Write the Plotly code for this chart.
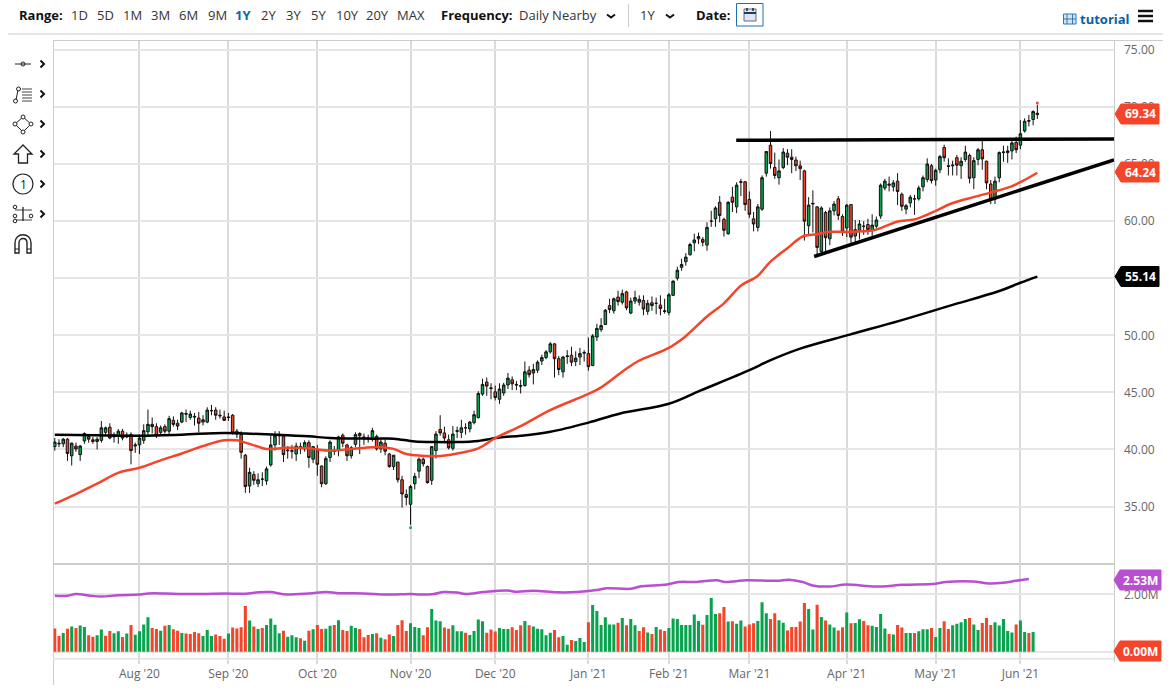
import plotly.graph_objects as go

# daily candles, Jul 2020 - Jun 2021
opens = [
    40.25, 40.55, 40.5, 40.9, 39.45, 40.3, 39.55, 40.75, 41.15, 40.85,
    40.7, 40.8, 41.5, 41.95, 41.1, 41.2, 41.6, 41.1, 41.3, 40.3,
    40.4, 40.8, 41.55, 42.2, 42.0, 41.5, 42.0, 41.6, 42.55, 42.3,
    42.4, 43.15, 42.8, 42.9, 42.75, 42.4, 42.4, 43.4, 43.45, 43.0,
    42.85, 42.85, 43.0, 41.6, 41.3, 39.5, 36.8, 37.8, 37.0, 37.4,
    37.25, 38.65, 40.4, 41.3, 41.15, 39.95, 39.9, 39.6, 40.25, 40.05,
    40.6, 39.15, 39.9, 38.55, 37.0, 39.3, 39.9, 39.9, 41.25, 40.4,
    39.45, 40.45, 41.4, 41.1, 41.0, 40.9, 41.15, 40.05, 40.55, 39.6,
    38.5, 38.9, 37.35, 36.05, 35.2, 37.0, 38.1, 39.15, 38.5, 37.3,
    39.9, 41.75, 41.45, 40.85, 40.1, 41.65, 41.5, 41.9, 41.8, 42.35,
    42.8, 44.85, 45.9, 45.4, 45.05, 44.4, 44.95, 45.65, 46.1, 45.7,
    45.6, 45.6, 46.95, 46.7, 46.95, 47.75, 48.05, 48.55, 49.25, 47.95,
    46.8, 48.2, 48.25, 47.7, 48.1, 48.5, 48.4, 47.35, 49.85, 50.5,
    50.95, 52.6, 52.15, 53.35, 52.9, 53.8, 51.95, 53.0, 52.9, 53.05,
    52.1, 52.85, 52.8, 52.65, 52.15, 52.0, 53.5, 55.0, 55.95, 56.45,
    57.05, 58.1, 58.45, 58.4, 57.9, 60.0, 60.2, 61.65, 60.15, 58.9,
    62.1, 61.25, 63.4, 63.45, 61.9, 60.2, 59.45, 61.05, 64.2, 66.65,
    64.7, 63.8, 64.7, 65.95, 65.6, 65.35, 64.85, 64.4, 59.6, 61.5,
    61.25, 57.35, 60.75, 58.45, 60.9, 61.95, 60.4, 59.4, 61.45, 58.7,
    59.2, 59.55, 59.7, 59.25, 59.55, 60.45, 62.9, 63.25, 63.0, 63.5,
    62.35, 61.05, 61.6, 61.95, 61.95, 63.0, 63.65, 64.85, 63.6, 64.5,
    66.45, 64.85, 64.85, 65.55, 64.85, 65.4, 65.75, 63.8, 65.4, 66.25,
    65.25, 63.25, 61.95, 63.8, 66.0, 66.0, 66.15, 66.9, 66.65, 67.9,
    68.75, 68.9, 69.45,
]
highs = [
    41.0, 40.9, 41.0, 41.0, 40.6, 40.6, 40.4, 41.5, 41.3, 41.1,
    41.1, 42.5, 42.0, 42.3, 41.5, 41.8, 41.8, 41.5, 41.5, 40.6,
    41.3, 42.2, 43.5, 42.8, 42.3, 42.1, 42.2, 42.95, 42.9, 42.6,
    43.3, 43.5, 43.4, 43.2, 43.3, 43.0, 43.7, 43.9, 43.7, 43.5,
    43.4, 43.2, 43.1, 41.8, 41.6, 39.6, 38.4, 38.1, 37.9, 38.0,
    38.5, 41.2, 41.6, 41.6, 41.3, 40.3, 40.4, 40.6, 40.6, 40.8,
    40.8, 40.3, 40.4, 38.6, 39.4, 40.8, 40.3, 41.2, 41.4, 40.5,
    40.3, 41.5, 41.5, 41.4, 41.3, 41.9, 41.3, 41.0, 40.9, 39.7,
    39.5, 38.9, 37.7, 36.5, 36.9, 37.95, 39.3, 39.3, 38.6, 40.3,
    41.6, 43.0, 42.0, 41.3, 42.05, 42.0, 42.6, 42.3, 42.5, 43.4,
    45.1, 46.2, 46.3, 45.8, 45.6, 45.8, 45.85, 46.7, 46.4, 46.0,
    46.1, 47.7, 47.3, 47.5, 47.8, 48.3, 48.7, 49.4, 49.3, 48.2,
    48.2, 48.7, 49.0, 48.6, 48.9, 48.7, 49.8, 50.1, 51.0, 51.5,
    52.3, 53.2, 53.3, 53.9, 54.0, 53.9, 53.3, 53.9, 53.5, 53.5,
    53.1, 53.4, 53.3, 53.5, 53.2, 53.7, 54.8, 56.0, 56.7, 57.2,
    58.1, 58.9, 59.0, 58.6, 59.9, 60.9, 61.3, 62.2, 60.3, 61.75,
    63.0, 63.4, 63.7, 63.5, 62.6, 60.8, 61.5, 64.0, 66.1, 67.9,
    66.0, 65.4, 66.4, 66.3, 66.3, 65.65, 65.3, 64.5, 62.1, 62.7,
    61.3, 61.3, 60.9, 61.2, 61.75, 62.2, 60.6, 61.5, 61.5, 60.1,
    60.1, 60.0, 60.2, 60.6, 60.4, 63.3, 63.7, 63.9, 63.6, 64.2,
    62.5, 61.5, 62.3, 62.3, 63.1, 64.0, 65.5, 65.0, 64.6, 65.8,
    66.7, 65.5, 65.3, 65.8, 65.6, 66.6, 65.9, 65.6, 66.4, 67.2,
    65.3, 63.6, 63.9, 66.1, 66.6, 66.6, 67.1, 67.4, 68.85, 69.0,
    69.3, 69.7, 70.2,
]
lows = [
    39.9, 40.2, 40.2, 39.0, 38.6, 39.8, 39.0, 40.5, 40.6, 40.5,
    40.0, 40.6, 41.2, 40.9, 40.6, 40.5, 40.8, 41.0, 38.7, 39.7,
    39.6, 40.5, 41.1, 41.4, 41.0, 41.3, 41.4, 41.3, 42.0, 41.7,
    42.3, 42.4, 42.6, 42.1, 41.5, 42.1, 42.3, 43.0, 42.6, 42.7,
    42.5, 42.5, 41.3, 41.0, 39.2, 36.2, 36.2, 36.9, 36.7, 36.8,
    36.9, 38.5, 39.9, 40.4, 38.9, 39.2, 39.2, 39.0, 39.6, 39.8,
    38.4, 38.8, 37.7, 36.7, 36.9, 38.9, 39.5, 39.4, 40.2, 39.0,
    39.2, 40.2, 39.6, 40.4, 40.6, 40.7, 39.9, 39.7, 39.5, 38.4,
    38.2, 37.1, 34.9, 35.1, 33.4, 36.5, 37.5, 38.5, 37.0, 36.9,
    39.2, 41.2, 40.6, 40.0, 39.9, 41.0, 41.0, 41.3, 41.5, 42.2,
    42.7, 44.7, 44.7, 44.4, 44.3, 44.0, 44.7, 45.3, 45.2, 45.2,
    44.9, 45.5, 46.3, 45.7, 46.7, 47.4, 47.9, 48.4, 46.3, 46.5,
    46.3, 47.5, 47.3, 47.3, 47.4, 47.7, 46.9, 47.3, 49.5, 50.3,
    50.9, 51.95, 51.9, 52.6, 52.7, 52.2, 51.85, 52.75, 52.6, 51.75,
    51.8, 52.15, 51.85, 51.75, 51.9, 51.75, 53.45, 54.8, 55.65, 56.1,
    57.0, 57.35, 58.0, 57.8, 57.4, 59.5, 59.5, 59.9, 58.65, 58.8,
    60.8, 60.7, 62.2, 60.9, 60.3, 59.1, 59.1, 60.9, 63.9, 64.6,
    63.7, 63.2, 64.55, 64.9, 64.2, 64.4, 63.6, 58.3, 58.75, 59.0,
    57.0, 57.1, 57.2, 57.9, 60.5, 60.1, 58.7, 58.6, 57.9, 58.1,
    58.4, 58.8, 58.8, 58.7, 59.4, 60.2, 62.7, 62.6, 62.6, 61.4,
    60.9, 60.6, 61.2, 60.55, 61.8, 62.6, 63.4, 63.3, 63.1, 64.2,
    65.2, 64.0, 64.0, 64.0, 63.7, 65.2, 63.3, 62.8, 64.9, 64.5,
    62.8, 61.5, 61.5, 63.4, 65.2, 65.1, 65.4, 65.95, 66.3, 67.75,
    68.3, 68.4, 68.95,
]
closes = [
    40.65, 40.5, 40.9, 39.65, 40.55, 40.05, 40.3, 41.4, 40.9, 40.7,
    40.9, 41.9, 41.9, 41.0, 41.3, 41.6, 41.0, 41.25, 39.9, 40.4,
    41.0, 41.65, 42.2, 42.0, 41.2, 41.9, 41.6, 42.7, 42.2, 42.05,
    43.2, 43.1, 43.1, 42.85, 42.3, 42.6, 43.45, 43.4, 43.0, 42.95,
    42.55, 42.8, 41.45, 41.35, 39.75, 36.75, 38.0, 37.3, 37.35, 37.4,
    38.3, 40.4, 41.2, 41.2, 39.55, 39.9, 39.85, 40.3, 40.2, 40.6,
    39.3, 40.25, 38.7, 37.0, 39.2, 40.65, 39.85, 41.1, 40.55, 39.45,
    40.15, 41.3, 41.2, 41.05, 41.0, 41.65, 40.05, 40.65, 39.85, 38.5,
    39.5, 37.35, 36.1, 35.8, 36.75, 37.65, 39.15, 38.75, 37.1, 40.25,
    41.35, 41.45, 41.0, 40.15, 41.35, 41.6, 41.9, 41.9, 42.4, 43.05,
    44.9, 45.7, 45.55, 45.35, 44.55, 45.3, 45.65, 46.25, 45.75, 45.65,
    45.55, 46.8, 46.55, 47.0, 47.65, 48.05, 48.55, 49.25, 47.95, 47.0,
    48.1, 48.15, 47.65, 48.0, 48.4, 48.45, 47.25, 49.95, 50.6, 50.85,
    52.2, 52.25, 53.2, 52.95, 53.65, 52.4, 53.0, 53.3, 53.15, 52.3,
    52.8, 52.6, 52.8, 52.35, 52.1, 53.55, 54.75, 55.7, 56.2, 56.85,
    57.95, 58.35, 58.65, 58.15, 59.45, 60.0, 61.15, 60.5, 59.2, 61.65,
    61.65, 63.15, 63.45, 61.45, 60.6, 59.75, 61.25, 63.8, 66.1, 65.05,
    64.0, 64.4, 66.05, 65.6, 65.4, 64.85, 64.6, 60.0, 61.4, 61.55,
    57.7, 61.15, 58.55, 60.9, 61.5, 60.5, 59.05, 61.4, 58.6, 59.25,
    59.75, 59.55, 59.25, 59.65, 60.1, 63.15, 63.5, 63.15, 63.35, 62.6,
    61.3, 61.35, 62.1, 61.95, 62.9, 63.8, 65.0, 63.55, 64.45, 65.65,
    65.55, 64.8, 64.9, 64.9, 65.25, 66.05, 63.75, 65.3, 66.25, 65.45,
    63.35, 61.9, 63.5, 66.0, 66.05, 66.15, 66.85, 66.25, 67.65, 68.75,
    68.8, 69.6, 69.34,
]

# volume in millions (last session has no bar yet)
volumes = [
    .81, .55, .65, .80, .88, .83, .91, .86, .57, .52,
    .57, .77, .56, .72, .64, .71, .51, .63, .93, .59,
    .71, .95, 1.20, .83, .79, .73, .90, .93, .78, .73,
    .65, .63, .62, .69, .64, .55, .76, .55, .60, .55,
    .45, .63, .84, .81, .85, 1.59, 1.09, .88, .79, .83,
    .93, 1.16, .94, .64, .73, .52, .57, .50, .47, .38,
    .73, .78, .93, .79, .80, .90, .93, 1.10, .76, .72,
    .90, .83, .79, .50, .58, .62, .64, .49, .43, .60,
    .55, .93,
    1.10, .72, .99, .86, .83, .57, .85, 1.49, 1.09, 1.06,
    .84, .80, .92, .71, .71, .66, .58, .72, 1.12, 1.06,
    .66, .77, .70, .83, .79, .79, .85, .76, .92, 1.07,
    .92, .88, .80, .78, .57, .66, .76, .50, .55, .24,
    .41, .37, .48, .34, 1.03, 1.63, 1.42, .93, 1.20, .95,
    .95, 1.01, 1.17, .92, 1.14, .92, .72, .85, .67, .62,
    .86, .77, .72, .83, 1.16, 1.14, .93, .93, .93, 1.30,
    1.07, .94, 1.28, 1.87, 1.31, 1.34, 1.56, 1.05, 1.06, .97,
    1.09, .88, .95, .99, 1.07, 1.72, 1.34, 1.14, 1.34, 1.10,
    1.01, .74, .86, .86, 1.05,
    1.70, 1.49, .77, 1.64, 1.21, 1.09, .95, .84, .74, .85,
    1.37, .99, 1.00, 1.13, 1.07, .92, .90, .86, 1.31, .81,
    .62, .60, .93, .84, .65, .65, .65, .71, .78, .78,
    .83, .51, .83, 1.06, .79, .92, .97, 1.03, 1.14, 1.17,
    .95, .76, 1.00, 1.17, .93, 1.03, .91, 1.14, .72, .67,
    .95, 1.09, .69, .65, .69,
]
volume_sides = (
    "RRGRGRGGRR" "GGRRGGRGRG" "GGGRRGRGRR" "GRRRRGGGRR" "RGRRRRGRGR"
    "GGGGRGGGRG" "RGRRGGRGRR" "GGRRRGRGRR" "GR"
    "RRGGGRRGGG" "RRGGGRGGGG" "RRRGGGRRRG" "RGGGGGRRGG" "RGGGRGGGGG"
    "GRGRGGRRGR" "GRRGGGGGGG" "GRGGGRRGRG" "GRRRGGGRRG" "GRRRR"
    "RGGRGRGGRR" "GRGGRRGGGG" "RGRRGGRGGG" "RGGRRGGGGR" "GGRRRGGGGG" "RGGRG"
)

# moving averages, read at sample sessions
ma50_idx = [0, 5, 10, 15, 20, 25, 30, 35, 40, 43, 45, 48, 50, 55, 60, 65, 70, 75, 77, 80,
            83, 85, 90, 95, 100, 104, 110, 117, 125.6, 128.6, 134.7, 137.8, 145, 148.9, 154,
            158, 162.2, 165.8, 169, 172.9, 176.8, 180, 182.3, 187, 193.3, 196.4, 198.8, 203.5,
            208.3, 211.4, 216.9, 220.9, 225.6, 228.7, 232]
ma50_val = [35.25, 36.1, 37.0, 37.95, 38.4, 39.05, 39.65, 40.3, 40.8, 40.8, 40.6, 40.25, 40.05,
            40.15, 40.1, 39.9, 40.05, 40.2, 40.2, 40.05, 39.6, 39.5, 39.4, 39.65, 40.1, 41.0,
            42.05, 43.45, 44.8, 45.35, 47.0, 47.75, 48.9, 49.9, 51.65, 52.8, 54.4, 55.15, 56.45,
            57.6, 58.7, 58.85, 59.05, 59.05, 59.2, 59.6, 59.95, 60.2, 60.95, 61.5, 62.1, 62.5,
            63.0, 63.55, 64.24]
ma200_idx = [0, 10, 20, 30, 40, 45, 52, 60, 65, 75, 80, 85, 90, 95, 100, 105, 110, 117, 126,
             133.5, 145, 152.4, 164, 168.9, 176, 187.7, 199.6, 211.4, 223.2, 228, 232]
ma200_val = [41.3, 41.25, 41.2, 41.3, 41.45, 41.4, 41.3, 41.15, 41.0, 40.95, 40.95, 40.7, 40.65,
             40.65, 40.75, 41.05, 41.2, 41.55, 42.35, 43.15, 44.0, 45.15, 46.95, 47.8, 48.83,
             50.06, 51.29, 52.6, 53.9, 54.6, 55.14]
avg_vol_idx = [0, 3, 5, 8, 11, 15, 20, 22, 26, 30, 35, 40, 45, 48, 51, 54, 60, 64, 67, 73, 78,
               81.6, 84, 86.3, 89.5, 91.8, 95, 97, 101.3, 106.8, 109.1, 113, 118.6, 123.3, 128,
               130.4, 135.9, 138.2, 144.5, 147.3, 151.6, 156.3, 158.3, 163.4, 170.5, 173.4, 176.6,
               178.9, 182.9, 186.8, 193.9, 200.2, 208, 210.4, 216.7, 220.6, 223.8, 226.9, 230]
avg_vol_val = [1.95, 1.95, 2.01, 1.96, 1.92, 1.97, 1.99, 2.03, 2.03, 2.01, 2.01, 2.03, 2.02, 2.07,
               2.08, 2.0, 2.03, 2.08, 2.04, 2.03, 1.99, 2.0, 2.01, 1.99, 2.01, 2.08, 2.06, 2.01,
               2.08, 2.13, 2.09, 2.12, 2.07, 2.08, 2.15, 2.21, 2.19, 2.27, 2.34, 2.43, 2.43, 2.49,
               2.43, 2.49, 2.47, 2.51, 2.43, 2.31, 2.27, 2.34, 2.27, 2.33, 2.37, 2.43, 2.45, 2.38,
               2.4, 2.47, 2.53]

# hand drawn trend lines
resistance_idx = [160.9, 250.1]
resistance_val = [67.08, 67.2]
support_idx = [179.3, 250.1]
support_val = [56.9, 65.37]

month_idx = [20, 41, 62, 84, 104, 126, 145, 164, 187, 208, 228]
month_labels = ["Aug '20", "Sep '20", "Oct '20", "Nov '20", "Dec '20", "Jan '21",
                "Feb '21", "Mar '21", "Apr '21", "May '21", "Jun '21"]
price_ticks = [35, 40, 45, 50, 55, 60, 65, 70, 75]
range_buttons = ["1D", "5D", "1M", "3M", "6M", "9M", "1Y", "2Y", "3Y", "5Y", "10Y", "20Y", "MAX"]
range_button_x = [79, 105, 132, 160, 188, 217, 243, 268, 293, 318, 347, 377, 411]

GREEN = "#08a34e"
RED = "#f4452b"
PURPLE = "#b94fd0"
GRID = "#e6e6e6"
VLINE = "#dadada"
BORDER = "#cccccc"
FONT = "Open Sans"

W, H = 1169, 695


def px(x):
    return x / W


def py(y):
    return 1 - y / H


shapes = []
annotations = []


def line(x0, y0, x1, y1, color=BORDER, width=1, layer="above"):
    shapes.append(dict(type="line", xref="paper", yref="paper", x0=px(x0), y0=py(y0),
                       x1=px(x1), y1=py(y1), line=dict(color=color, width=width), layer=layer))


def circle(cx, cy, r, color="#222222", width=1, fill="rgba(0,0,0,0)"):
    shapes.append(dict(type="circle", xref="paper", yref="paper", x0=px(cx - r), y0=py(cy - r),
                       x1=px(cx + r), y1=py(cy + r), line=dict(color=color, width=width),
                       fillcolor=fill))


def rect(x0, y0, x1, y1, color="#222222", width=1, fill="rgba(0,0,0,0)"):
    shapes.append(dict(type="rect", xref="paper", yref="paper", x0=px(x0), y0=py(y0),
                       x1=px(x1), y1=py(y1), line=dict(color=color, width=width), fillcolor=fill))


def poly(points, color="#222222", width=1, fill="rgba(0,0,0,0)", close=True):
    path = "M " + " L ".join(f"{px(a):.5f} {py(b):.5f}" for a, b in points)
    if close:
        path += " Z"
    shapes.append(dict(type="path", xref="paper", yref="paper", path=path,
                       line=dict(color=color, width=width), fillcolor=fill))


def text(x, y, s, size=13, color="#333333", bold=False, anchor="left"):
    if bold:
        s = f"<b>{s}</b>"
    if anchor == "left":
        x -= 2  # annotation box padding
    annotations.append(dict(xref="paper", yref="paper", x=px(x), y=py(y), text=s, showarrow=False,
                            xanchor=anchor, yanchor="middle",
                            font=dict(family=FONT, size=size, color=color)))


def chevron(cx, cy, w=4, h=3, width=2):
    poly([(cx - w, cy - h / 2), (cx, cy + h / 2), (cx + w, cy - h / 2)],
         color="#111111", width=width, close=False)


def side_chevron(cx, cy):
    poly([(cx - 2, cy - 3.5), (cx + 1.5, cy), (cx - 2, cy + 3.5)], color="#111111", width=2, close=False)


def price_flag(y, label, color, x0=1115, x1=1159):
    poly([(x0, y), (x0 + 6, y - 10), (x1, y - 10), (x1, y + 10), (x0 + 6, y + 10)],
         color=color, fill=color)
    text((x0 + x1) / 2 + 3, y, label, size=12, color="white", bold=True, anchor="center")


# frame
line(8, 34, 1163, 34, layer="below")
line(53.5, 40.5, 1163, 40.5, layer="below")
line(53.5, 40, 53.5, 685, layer="below")
line(1114.5, 40, 1114.5, 662, layer="below")
line(53, 564, 1114, 564, color=BORDER, width=2, layer="below")
line(53, 658.7, 1114, 658.7, color=GRID, width=2, layer="below")

# toolbar
text(19, 15, "Range:", bold=True, color="#111111")
for label, x in zip(range_buttons, range_button_x):
    if label == "1Y":
        text(x, 15, label, color="#1565a8", bold=True, anchor="center")
    else:
        text(x, 15, label, color="#333333", anchor="center")
text(441, 15, "Frequency:", bold=True, color="#111111")
text(519, 15, "Daily Nearby", color="#333333")
chevron(611, 16)
line(628.5, 4, 628.5, 27, color="#cccccc", layer="below")
text(640, 15, "1Y", color="#333333")
chevron(670, 16)
text(696, 15, "Date:", bold=True, color="#111111")
rect(736.5, 3.5, 763, 26, color="#1c6fb5")
rect(744, 9, 756, 21, color="#5b6b8c", fill="#dfe6f5")
line(744, 13, 756, 13, color="#1f3b66", width=2)
line(747, 8, 747, 11, color="#222222", width=1.5)
line(753, 8, 753, 11, color="#222222", width=1.5)
# tutorial link
rect(1063.5, 14, 1076, 24, color="#2f78b5", fill="#d4e6f5")
line(1067, 14, 1067, 24, color="#2f78b5")
line(1072.5, 14, 1072.5, 24, color="#2f78b5")
line(1063.5, 19, 1076, 19, color="#2f78b5")
text(1080, 19, "tutorial", size=13, color="#0a5fa5", bold=True)
for yy in (11, 16, 21):
    line(1138, yy, 1153, yy, color="#111111", width=2.5)

# left drawing tools
line(15, 64, 31, 64, color="#222222")
circle(23, 64, 2)
side_chevron(42.5, 64)
line(16, 100, 18, 90, color="#222222")
circle(15.5, 101, 2)
circle(18.5, 89, 2)
for yy in (89, 92, 95, 98, 101):
    line(22, yy, 32, yy, color="#444444")
side_chevron(42.5, 94)
poly([(23, 117), (31, 124), (23, 132), (15, 124)], width=1)
for cx, cy in ((23, 117), (31, 124), (23, 132), (15, 124)):
    circle(cx, cy, 2, fill="white")
side_chevron(42.5, 124)
poly([(23, 145), (32, 154), (27.5, 154), (27.5, 163), (18.5, 163), (18.5, 154), (14, 154)], width=1.3)
side_chevron(42.5, 154)
circle(23, 184, 10, width=1.2)
text(23, 184, "1", size=12, color="#222222", anchor="center")
side_chevron(42.5, 184)
line(15, 210, 32, 210, color="#444444")
line(15, 220, 32, 220, color="#444444")
line(23, 207, 23, 221, color="#222222", width=1.3)
for cx, cy in ((15, 207), (15, 216), (15, 221), (31, 216)):
    circle(cx, cy, 1.8, fill="white")
side_chevron(42.5, 214)
# magnet
shapes.append(dict(
    type="path", xref="paper", yref="paper", line=dict(color="#222222", width=1.4),
    path=(f"M {px(15):.5f} {py(253):.5f} L {px(15):.5f} {py(243):.5f} "
          f"C {px(15):.5f} {py(232):.5f} {px(31):.5f} {py(232):.5f} {px(31):.5f} {py(243):.5f} "
          f"L {px(31):.5f} {py(253):.5f} L {px(27):.5f} {py(253):.5f} L {px(27):.5f} {py(243):.5f} "
          f"C {px(27):.5f} {py(237):.5f} {px(19):.5f} {py(237):.5f} {px(19):.5f} {py(243):.5f} "
          f"L {px(19):.5f} {py(253):.5f} Z"),
))
line(15, 249, 19, 249, color="#222222")
line(27, 249, 31, 249, color="#222222")

# last value flags
price_flag(114, "69.34", RED)
price_flag(172, "64.24", RED)
price_flag(276.5, "55.14", "#000000")
price_flag(580, "2.53M", PURPLE, x0=1114, x1=1161)
price_flag(651, "0.00M", RED, x0=1114, x1=1161)

sessions = list(range(len(closes)))
fig = go.Figure()
fig.add_trace(go.Candlestick(
    x=sessions, open=opens, high=highs, low=lows, close=closes,
    increasing=dict(line=dict(color="#111111", width=1), fillcolor=GREEN),
    decreasing=dict(line=dict(color="#111111", width=1), fillcolor=RED),
    whiskerwidth=0, xaxis="x", yaxis="y", hoverinfo="skip", showlegend=False,
))
fig.add_trace(go.Scatter(x=ma200_idx, y=ma200_val, mode="lines", line=dict(color="#000000", width=2.5),
                         line_shape="spline", hoverinfo="skip", showlegend=False))
fig.add_trace(go.Scatter(x=ma50_idx, y=ma50_val, mode="lines", line=dict(color=RED, width=2.5),
                         line_shape="spline", hoverinfo="skip", showlegend=False))
fig.add_trace(go.Scatter(x=resistance_idx, y=resistance_val, mode="lines",
                         line=dict(color="#000000", width=3.5), hoverinfo="skip", showlegend=False))
fig.add_trace(go.Scatter(x=support_idx, y=support_val, mode="lines",
                         line=dict(color="#000000", width=3.5), hoverinfo="skip", showlegend=False))
fig.add_trace(go.Scatter(x=[84], y=[33.15], mode="markers", hoverinfo="skip", showlegend=False,
                         marker=dict(color=GREEN, size=2.5, symbol="square")))
fig.add_trace(go.Scatter(x=[232], y=[70.35], mode="markers", hoverinfo="skip", showlegend=False,
                         marker=dict(color=RED, size=2.5, symbol="square")))
fig.add_trace(go.Bar(
    x=sessions[:len(volumes)], y=volumes, xaxis="x2", yaxis="y2", width=0.72,
    marker=dict(color=[GREEN if s == "G" else RED for s in volume_sides], line=dict(width=0)),
    hoverinfo="skip", showlegend=False,
))
fig.add_trace(go.Scatter(x=avg_vol_idx, y=avg_vol_val, mode="lines", xaxis="x2", yaxis="y2",
                         line=dict(color=PURPLE, width=2.5), line_shape="spline",
                         hoverinfo="skip", showlegend=False))

x_range = [-0.3, 250.1]
x_domain = [px(53.5), px(1114)]
fig.update_layout(
    width=W, height=H, margin=dict(l=0, r=0, t=0, b=0),
    paper_bgcolor="white", plot_bgcolor="white",
    font=dict(family=FONT, size=12, color="#666666"),
    showlegend=False, bargap=0.3, boxgap=0.15, shapes=shapes, annotations=annotations,
    xaxis=dict(domain=x_domain, range=x_range, anchor="y", rangeslider=dict(visible=False),
               tickvals=month_idx, showticklabels=False, showgrid=True, gridcolor=VLINE, gridwidth=1.5,
               zeroline=False, ticks=""),
    yaxis=dict(domain=[py(564), py(40.5)], range=[29.97, 75.82], side="right", anchor="x",
               tickvals=price_ticks, ticktext=[f"{t:.2f}" for t in price_ticks],
               showgrid=True, gridcolor=GRID, gridwidth=2, zeroline=False, ticks="",
               ticklabelstandoff=9, tickfont=dict(family=FONT, size=12, color="#666666")),
    xaxis2=dict(domain=x_domain, range=x_range, anchor="y2", matches="x",
                tickvals=month_idx, ticktext=month_labels, showgrid=True, gridcolor=VLINE, gridwidth=1.5,
                zeroline=False, ticks="outside", ticklen=4, tickcolor=VLINE, tickwidth=1.5,
                tickfont=dict(family=FONT, size=12, color="#666666")),
    yaxis2=dict(domain=[py(658.7), py(564)], range=[-0.244, 3.056], side="right", anchor="x2",
                tickvals=[0, 2], ticktext=["0.00M", "2.00M"],
                showgrid=True, gridcolor=GRID, gridwidth=2, zeroline=False, ticks="",
                ticklabelstandoff=9, tickfont=dict(family=FONT, size=12, color="#666666")),
)

fig.write_html("out.html", config=dict(displayModeBar=False),
               post_script="document.body.style.margin='0';document.body.style.overflow='hidden';")
